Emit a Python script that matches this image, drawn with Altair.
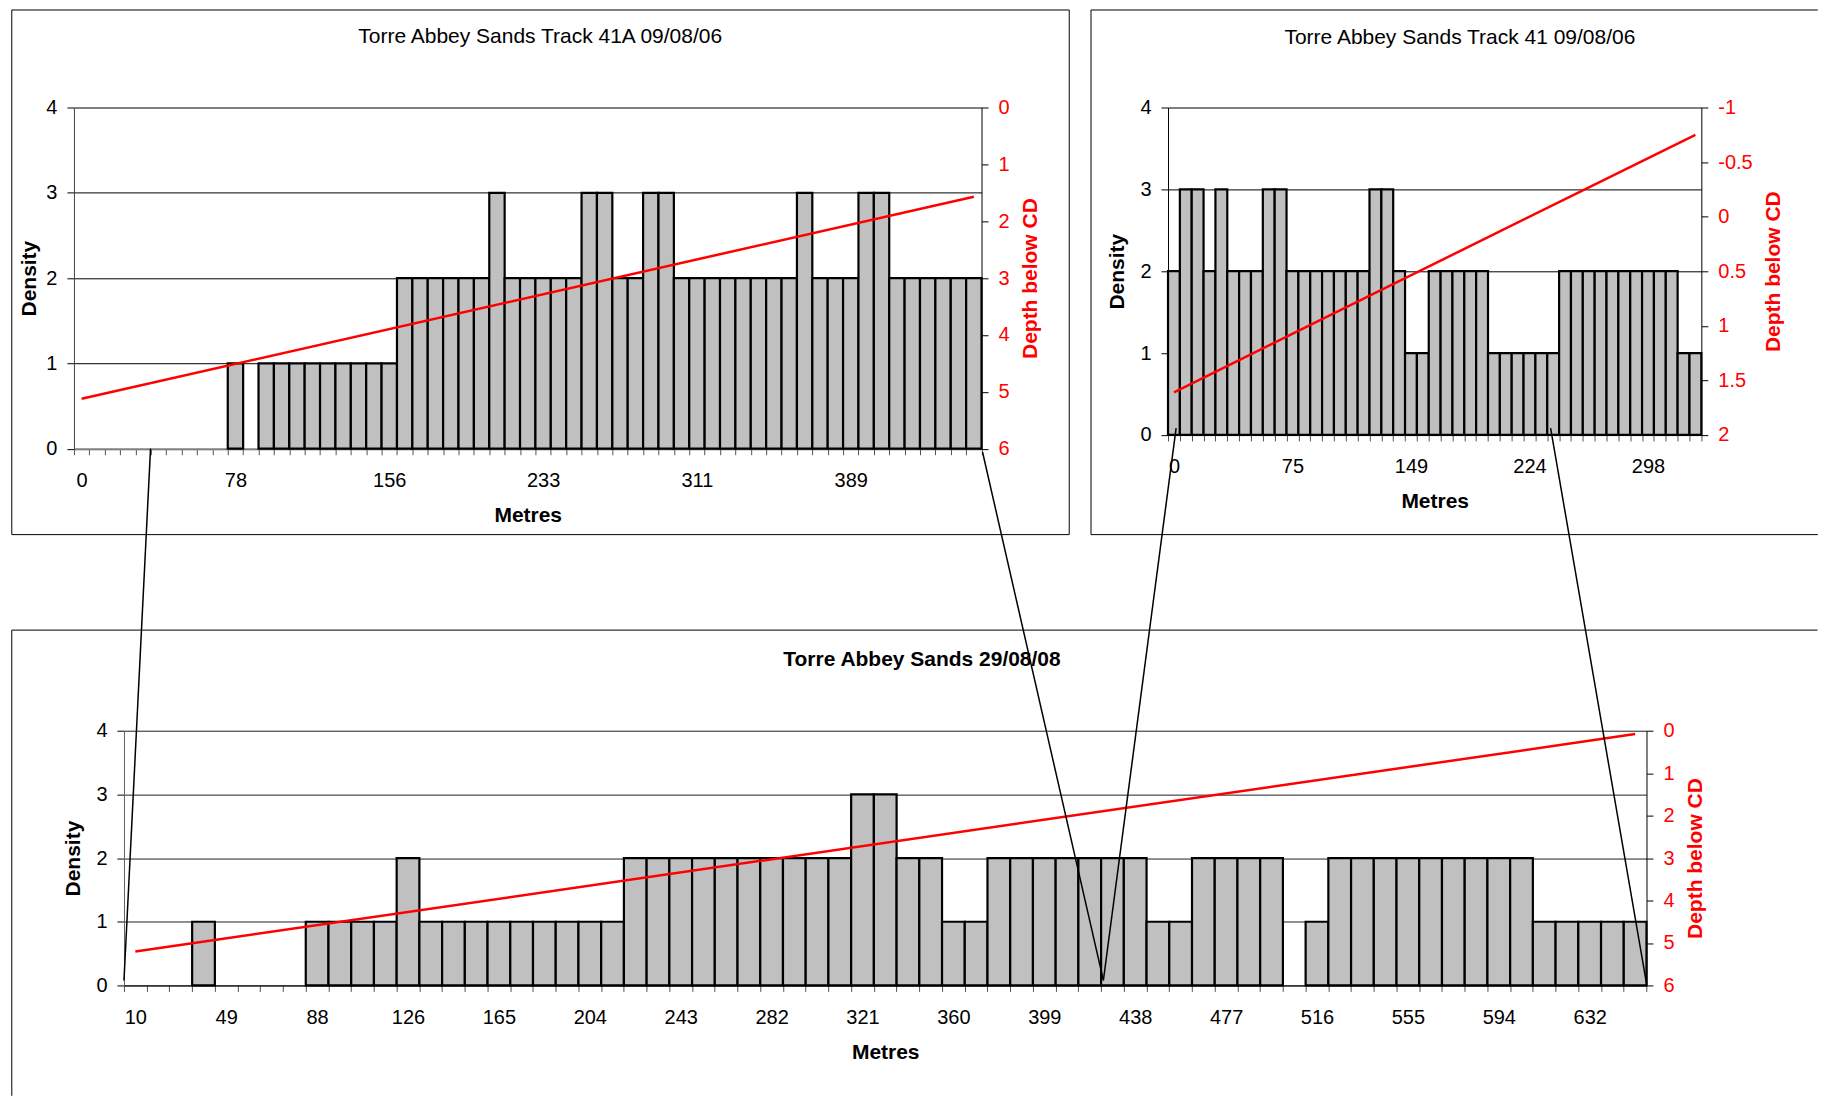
import json
import altair as alt
import pandas as pd

FONT = "Liberation Sans, Arial, sans-serif"
RED = "#FF0000"
BAR = "#C0C0C0"

# ---------------- data ----------------
density_ticks = [0, 1, 2, 3, 4]

# Track 41A 09/08/06 (59 bins)
tl_title = "Torre Abbey Sands Track 41A  09/08/06"
tl_density = [0, 0, 0, 0, 0, 0, 0, 0, 0, 0,
              1, 0, 1, 1, 1, 1, 1, 1, 1, 1,
              1, 2, 2, 2, 2, 2, 2, 3, 2, 2,
              2, 2, 2, 3, 3, 2, 2, 3, 3, 2,
              2, 2, 2, 2, 2, 2, 2, 3, 2, 2,
              2, 3, 3, 2, 2, 2, 2, 2, 2]
tl_tick_bins = [0, 10, 20, 30, 40, 50]
tl_tick_labels = ["0", "78", "156", "233", "311", "389"]
tl_depth = [5.12, 1.57]
tl_depth_ticks = [0, 1, 2, 3, 4, 5, 6]
tl_depth_labels = ["0", "1", "2", "3", "4", "5", "6"]

# Track 41 09/08/06 (45 bins)
tr_title = "Torre Abbey Sands Track 41 09/08/06"
tr_density = [2, 3, 3, 2, 3, 2, 2, 2, 3, 3,
              2, 2, 2, 2, 2, 2, 2, 3, 3, 2,
              1, 1, 2, 2, 2, 2, 2, 1, 1, 1,
              1, 1, 1, 2, 2, 2, 2, 2, 2, 2,
              2, 2, 2, 1, 1]
tr_tick_bins = [0, 10, 20, 30, 40]
tr_tick_labels = ["0", "75", "149", "224", "298"]
tr_depth = [1.61, -0.75]
tr_depth_ticks = [-1, -0.5, 0, 0.5, 1, 1.5, 2]
tr_depth_labels = ["-1", "-0.5", "0", "0.5", "1", "1.5", "2"]

# Torre Abbey Sands 29/08/08 (67 bins)
bt_title = "Torre Abbey Sands 29/08/08"
bt_density = [0, 0, 0, 1, 0, 0, 0, 0, 1, 1,
              1, 1, 2, 1, 1, 1, 1, 1, 1, 1,
              1, 1, 2, 2, 2, 2, 2, 2, 2, 2,
              2, 2, 3, 3, 2, 2, 1, 1, 2, 2,
              2, 2, 2, 2, 2, 1, 1, 2, 2, 2,
              2, 0, 1, 2, 2, 2, 2, 2, 2, 2,
              2, 2, 1, 1, 1, 1, 1]
bt_tick_bins = [0, 4, 8, 12, 16, 20, 24, 28, 32, 36, 40, 44, 48, 52, 56, 60, 64]
bt_tick_labels = ["10", "49", "88", "126", "165", "204", "243", "282", "321",
                  "360", "399", "438", "477", "516", "555", "594", "632"]
bt_depth = [5.2, 0.08]
bt_depth_ticks = [0, 1, 2, 3, 4, 5, 6]
bt_depth_labels = ["0", "1", "2", "3", "4", "5", "6"]

# bins of the lower survey where the zoom connector lines meet its axis
connector_bins = [0, 43.1, 43.1, 67]

one = pd.DataFrame({"k": [0]})


def seg(x1, x2, y1, y2, color="black", w=1.0):
    return alt.Chart(one).mark_rule(color=color, strokeWidth=w).encode(
        x=alt.value(x1), x2=alt.value(x2), y=alt.value(y1), y2=alt.value(y2))


def label_expr(vals, labels):
    v = json.dumps(vals)
    l = json.dumps(labels)
    return f"indexof({v}, datum.value) >= 0 ? {l}[indexof({v}, datum.value)] : ''"


def panel(title, bold, tpos, density, tick_bins, tick_labels, depth, depth_ticks,
          depth_labels, W, H, xdom_color, xdom_w, ydom_color, grid_edge_grey,
          ytp, rtp, extra):
    n = len(density)
    df = pd.DataFrame({"start": list(range(n)), "end": [i + 1 for i in range(n)],
                       "density": density, "base": [0 for _ in range(n)]})
    df = df[df["density"] > 0]
    xscale = alt.Scale(domain=[0, n], nice=False, zero=False)
    xaxis = alt.Axis(values=list(range(n + 1)), labelExpr=label_expr(tick_bins, tick_labels),
                     labelOffset=W / n / 2, tickSize=6, labelPadding=16, labelFontSize=20,
                     labelOverlap=False, labelFlush=False, labelBound=False, grid=False,
                     title="Metres", titleFontSize=21, titleFontWeight="bold", titlePadding=14,
                     domainColor=xdom_color, domainWidth=xdom_w, tickColor="#505050",
                     labelColor="black", titleColor="black")
    if grid_edge_grey:
        gcol = {"condition": {"test": "datum.value == 4 || datum.value == 0", "value": "#808080"},
                "value": "black"}
        gw = {"condition": {"test": "datum.value == 4", "value": 2}, "value": 1}
    else:
        gcol = "#202020"
        gw = 1
    yaxis = alt.Axis(values=density_ticks, title="Density", titleFontSize=21,
                     titleFontWeight="bold", labelFontSize=20, tickSize=7, labelPadding=10,
                     titlePadding=ytp, grid=True, gridColor=gcol, gridWidth=gw,
                     domainColor=ydom_color, tickColor="black", labelColor="black",
                     titleColor="black")
    bars = alt.Chart(df).mark_rect(fill=BAR, stroke="black", strokeWidth=2.2).encode(
        x=alt.X("start:Q", scale=xscale, axis=xaxis),
        x2="end:Q",
        y=alt.Y("density:Q", scale=alt.Scale(domain=[0, 4], nice=False), axis=yaxis),
        y2="base:Q")
    line_df = pd.DataFrame({"start": [0.5, n - 0.5], "depth": depth})
    raxis = alt.Axis(orient="right", values=depth_ticks,
                     labelExpr=label_expr(depth_ticks, depth_labels),
                     title="Depth below CD", titleColor=RED, labelColor=RED,
                     titleAngle=270, titleBaseline="top", titleFontSize=21,
                     titleFontWeight="bold", labelFontSize=20, tickSize=6.5,
                     labelPadding=10, titlePadding=rtp, grid=False, domainColor="black",
                     tickColor="black", labelOverlap=False)
    line = alt.Chart(line_df).mark_line(color=RED, strokeWidth=2.5).encode(
        x=alt.X("start:Q", scale=xscale, axis=xaxis),
        y=alt.Y("depth:Q", scale=alt.Scale(domain=[min(depth_ticks), max(depth_ticks)],
                                           reverse=True, nice=False, zero=False),
                axis=raxis))
    ttl = alt.Chart(one).mark_text(text=title, font=FONT, fontSize=21,
                                   fontWeight="bold" if bold else "normal", color="black",
                                   align="center", baseline="alphabetic").encode(
        x=alt.value(tpos[0]), y=alt.value(tpos[1]))
    layers = [bars, line, ttl] + extra(xscale, xaxis)
    return alt.layer(*layers).resolve_scale(y="independent").properties(width=W, height=H)


def tl_extra(xscale, xaxis):
    box = alt.Chart(one).mark_rect(fill="transparent", stroke="black", strokeWidth=1).encode(
        x=alt.value(-62.2), x2=alt.value(996.4), y=alt.value(-97.6), y2=alt.value(427.6))
    return [box]


def tr_extra(xscale, xaxis):
    return [seg(-77.1, 650.5, -97.6, -97.6), seg(-77.1, -77.1, -97.6, 427.6),
            seg(-77.1, 650.5, 427.6, 427.6)]


def bt_extra(xscale, xaxis):
    out = [seg(-112.3, 1695.5, -100.7, -100.7), seg(-112.3, -112.3, -100.7, 365.5)]
    tops = [(26.6, -282.4, 250), (859.5, -279, 250), (1053.3, -303, 250), (1428.2, -303, 253)]
    for b, (tx, ty, by) in zip(connector_bins, tops):
        out.append(alt.Chart(pd.DataFrame({"start": [b]})).mark_rule(color="black", strokeWidth=1.5).encode(
            x=alt.X("start:Q", scale=xscale, axis=xaxis), x2=alt.value(tx),
            y=alt.value(by), y2=alt.value(ty)))
    return out


tl = panel(tl_title, False, (466.8, -64.8), tl_density, tl_tick_bins, tl_tick_labels,
           tl_depth, tl_depth_ticks, tl_depth_labels, 908.6, 341.6, "#808080", 2,
           "#404040", True, 6, 10.4, tl_extra)
tr = panel(tr_title, False, (292.2, -63.1), tr_density, tr_tick_bins, tr_tick_labels,
           tr_depth, tr_depth_ticks, tr_depth_labels, 533.9, 327.8, "black", 1,
           "black", True, 12, 10.5, tr_extra)
bt = panel(bt_title, True, (798.9, -65), bt_density, bt_tick_bins, bt_tick_labels,
           bt_depth, bt_depth_ticks, bt_depth_labels, 1524.2, 255, "black", 1,
           "#606060", False, 12, 10.6, bt_extra)

spacer = alt.Chart(one).mark_point(opacity=0).encode(
    x=alt.value(0), y=alt.value(0)).properties(width=10, height=10)

top = alt.hconcat(tl, tr, spacing=186.3, bounds="flush")
bottom = alt.hconcat(spacer, bt, spacing=40.1, bounds="flush")
# with flush bounds the nested top row counts as zero height, so the gap is the full offset
chart = alt.vconcat(top, bottom, spacing=623.9, bounds="flush").properties(
    padding={"left": 2, "top": 0, "right": 0, "bottom": 0},
    background="white",
).configure(font=FONT).configure_view(stroke="transparent").configure_axis(
    labelFont=FONT, titleFont=FONT)

chart.save("out.html", embed_options={"renderer": "svg", "actions": False})
